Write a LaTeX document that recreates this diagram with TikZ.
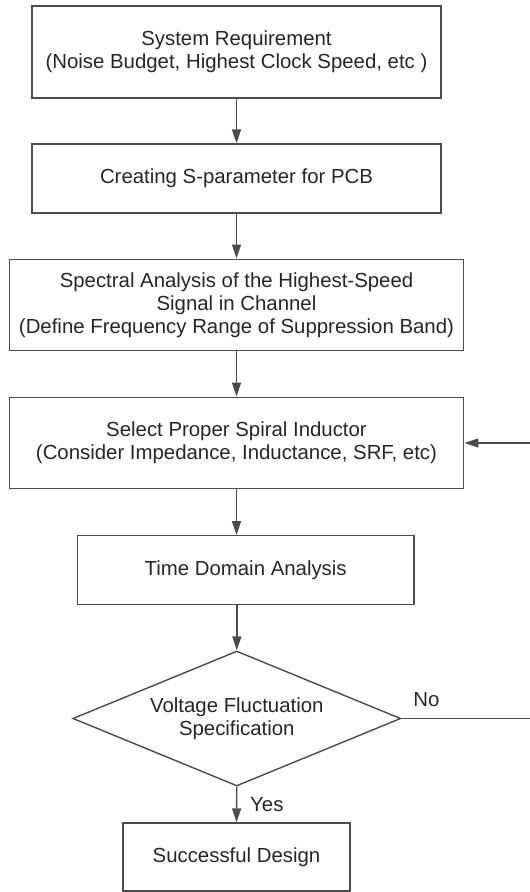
\documentclass[tikz,border=0pt]{standalone}
\usepackage{fontspec}
\setmainfont{Liberation Sans}
\usetikzlibrary{arrows.meta,shapes.geometric}
\definecolor{linegray}{gray}{0.3}
\definecolor{textgray}{gray}{0.15}

\begin{document}
\begin{tikzpicture}[x=0.02cm,y=-0.02cm,
        font=\fontsize{11.6}{13}\selectfont,
        box/.style={draw=linegray, line width=0.8pt, rectangle, align=center, inner sep=0pt, text=textgray},
        cond/.style={draw=linegray, line width=0.8pt, diamond, aspect=2.43, align=center, inner sep=0pt, text=textgray},
        flow/.style={draw=linegray, line width=0.8pt, -{Triangle[length=2.8mm,width=1.8mm]}}]
        \useasboundingbox (0,0) rectangle (530,892);
        \node [box, minimum width=8.18cm, minimum height=1.84cm] (req) at (236.5,52) {System Requirement\\(Noise Budget, Highest Clock Speed, etc )};
        \node [box, minimum width=8.18cm, minimum height=1.38cm] (spar) at (236.5,178.5) {Creating S-parameter for PCB};
        \node [box, minimum width=9.09cm, minimum height=1.83cm] (spec) at (236.5,305) {Spectral Analysis of the Highest-Speed\\Signal in Channel\\(Define Frequency Range of Suppression Band)};
        \node [box, minimum width=9.09cm, minimum height=1.83cm] (ind) at (236.5,443) {Select Proper Spiral Inductor\\(Consider Impedance, Inductance, SRF, etc)};
        \node [box, minimum width=6.74cm, minimum height=1.37cm] (tda) at (245.7,570) {Time Domain Analysis};
        \node [cond, minimum width=6.56cm, minimum height=2.7cm] (volt) at (236.8,718.5) {Voltage Fluctuation\\Specification};
        \node [box, minimum width=4.54cm, minimum height=1.36cm] (done) at (236.5,857) {Successful Design};
        \coordinate (loop) at (540,718.5);
        \draw [flow] (req) -- (spar);
        \draw [flow] (spar) -- (spec);
        \draw [flow] (spec) -- (ind);
        \draw [flow] (ind.south) -- (ind.south |- tda.north);
        \draw [flow] (volt.north |- tda.south) -- (volt.north);
        \draw [flow] (volt.south) -- node [right=4pt, text=textgray] {Yes} (done.north);
        \draw [flow] (volt.east) -- node [pos=0.18, above=3pt, text=textgray] {No} (loop) |- (ind.east);
    \end{tikzpicture}
\end{document}
